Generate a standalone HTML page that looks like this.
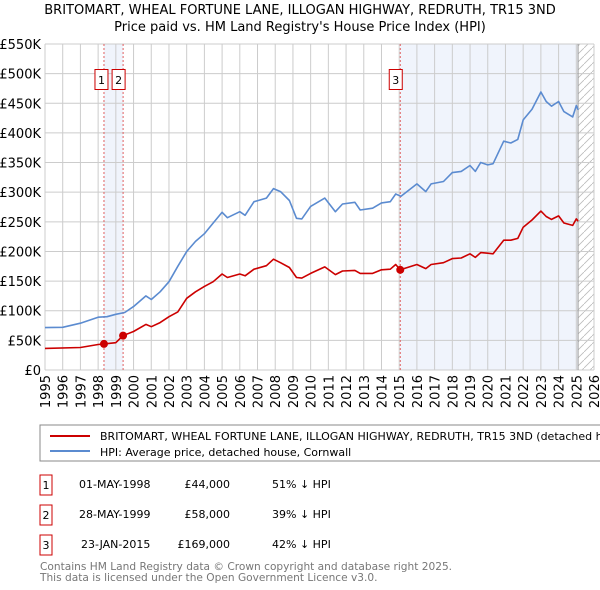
<!DOCTYPE html>
<html><head><meta charset="utf-8"><style>
body{margin:0;background:#fff;font-family:"DejaVu Sans","Liberation Sans",sans-serif;}
#wrap{position:relative;width:600px;height:590px;overflow:hidden}
</style></head><body>
<div id="wrap">
<svg id="chart" width="600" height="590" font-family="DejaVu Sans, Liberation Sans, sans-serif">
<text x="300" y="14" text-anchor="middle" font-size="13">BRITOMART, WHEAL FORTUNE LANE, ILLOGAN HIGHWAY, REDRUTH, TR15 3ND</text>
<text x="300" y="31" text-anchor="middle" font-size="13">Price paid vs. HM Land Registry's House Price Index (HPI)</text>
<g id="plot"></g>
<rect x="40" y="425" width="570" height="36" fill="#fff" stroke="#888"/>
<line x1="50" y1="436" x2="90" y2="436" stroke="#cc0000" stroke-width="2"/>
<text x="100" y="440" font-size="11">BRITOMART, WHEAL FORTUNE LANE, ILLOGAN HIGHWAY, REDRUTH, TR15 3ND (detached house)</text>
<line x1="50" y1="451" x2="90" y2="451" stroke="#5b8bd0" stroke-width="2"/>
<text x="100" y="456" font-size="11">HPI: Average price, detached house, Cornwall</text>
<g font-size="11">
<rect x="40" y="475" width="12" height="20" fill="#fff" stroke="#cc0000"/><text x="46" y="489" text-anchor="middle">1</text>
<text x="79" y="488">01-MAY-1998</text><text x="230" y="488" text-anchor="end">£44,000</text><text x="272" y="488">51% ↓ HPI</text>
<rect x="40" y="505" width="12" height="20" fill="#fff" stroke="#cc0000"/><text x="46" y="519" text-anchor="middle">2</text>
<text x="79" y="518">28-MAY-1999</text><text x="230" y="518" text-anchor="end">£58,000</text><text x="272" y="518">39% ↓ HPI</text>
<rect x="40" y="535" width="12" height="20" fill="#fff" stroke="#cc0000"/><text x="46" y="549" text-anchor="middle">3</text>
<text x="81" y="548">23-JAN-2015</text><text x="230" y="548" text-anchor="end">£169,000</text><text x="272" y="548">42% ↓ HPI</text>
</g>
<text x="40" y="570" font-size="10.6" fill="#777">Contains HM Land Registry data © Crown copyright and database right 2025.</text>
<text x="40" y="581" font-size="10.6" fill="#777">This data is licensed under the Open Government Licence v3.0.</text>
</svg></div>
<script>
const yTicks=[0,50,100,150,200,250,300,350,400,450,500,550];
const yTickLabels=["£0","£50K","£100K","£150K","£200K","£250K","£300K","£350K","£400K","£450K","£500K","£550K"];
const xYears=[1995,1996,1997,1998,1999,2000,2001,2002,2003,2004,2005,2006,2007,2008,2009,2010,2011,2012,2013,2014,2015,2016,2017,2018,2019,2020,2021,2022,2023,2024,2025,2026];
const hpiT=[1995,1996,1997,1998,1998.5,1999,1999.5,2000,2000.7,2001,2001.5,2002,2002.5,2003,2003.5,2004,2004.5,2005,2005.3,2006,2006.3,2006.8,2007.5,2007.9,2008.3,2008.8,2009.2,2009.5,2010,2010.8,2011.4,2011.8,2012.5,2012.8,2013.5,2014,2014.5,2014.8,2015.1,2016,2016.5,2016.8,2017.5,2018,2018.5,2019,2019.3,2019.6,2020,2020.3,2020.9,2021.3,2021.7,2022,2022.5,2023,2023.3,2023.6,2024,2024.3,2024.8,2025,2025.1];
const hpiV=[71.5,72,79,89,90,94,97,107,125,119,132,149,175,200,217,230,248,266,257,267,261,284,290,306,301,286,256,255,276,290,267,280,283,270,273,282,284,297,293,314,301,314,318,333,335,345,335,350,346,348,386,383,389,422,440,469,453,445,453,436,427,446,439];
const propT=[1995,1997,1998,1998.33,1999,1999.41,2000,2000.7,2001,2001.5,2002,2002.5,2003,2003.5,2004,2004.5,2005,2005.3,2006,2006.3,2006.8,2007.5,2007.9,2008.3,2008.8,2009.2,2009.5,2010,2010.8,2011.4,2011.8,2012.5,2012.8,2013.5,2014,2014.5,2014.8,2015.06,2016,2016.5,2016.8,2017.5,2018,2018.5,2019,2019.3,2019.6,2020,2020.3,2020.9,2021.3,2021.7,2022,2022.5,2023,2023.3,2023.6,2024,2024.3,2024.8,2025,2025.1];
const propV=[36.5,38,43,44,46,58,65,77,73,80,90,98,121,132,141,149,162,156,162,159,170,176,187,181,173,156,155,163,174,161,167,168,163,163,169,170,178,169,178,171,178,181,188,189,196,190,198,197,196,219,219,222,241,253,268,259,254,260,248,244,255,251];
const saleT=[1998.33,1999.41,2015.06];
const saleV=[44,58,169];
const saleLabels=["1","2","3"];

const X0=45,X1=594,Y0=370,Y1=44,NS="http://www.w3.org/2000/svg";
const xs=t=>X0+(t-1995)/(2026-1995)*(X1-X0);
const ys=v=>Y0-v/550*(Y0-Y1);
const g=document.getElementById('plot');
function mk(tag,at,parent){const e=document.createElementNS(NS,tag);for(const k in at)e.setAttribute(k,at[k]);(parent||g).appendChild(e);return e;}

let e=mk('rect',{x:xs(saleT[0]),y:Y1,width:xs(saleT[1])-xs(saleT[0]),height:Y0-Y1,fill:'#f0f4fc'});


e=mk('rect',{x:xs(saleT[2]),y:Y1,width:xs(2025.1)-xs(saleT[2]),height:Y0-Y1,fill:'#f0f4fc'});


const defs=mk('defs',{});
const pat=mk('pattern',{id:'hatch',width:8,height:8,patternUnits:'userSpaceOnUse'},defs);
mk('path',{d:'M0,8 L8,0',stroke:'#bbb','stroke-width':0.8},pat);
e=mk('rect',{x:xs(2025.1),y:Y1,width:X1-xs(2025.1),height:Y0-Y1,fill:'url(#hatch)'});


yTicks.forEach((v,i)=>{
  mk('line',{x1:X0,x2:X1,y1:ys(v),y2:ys(v),stroke:'#ccc','stroke-width':1});
  const t=mk('text',{x:X0-4,y:ys(v)+5,'text-anchor':'end','font-size':13});
  t.textContent=yTickLabels[i];
  
  
});
xYears.forEach(yr=>{
  mk('line',{x1:xs(yr),x2:xs(yr),y1:Y1,y2:Y0,stroke:'#ccc','stroke-width':1});
  const t=mk('text',{transform:`translate(${xs(yr)+5},${Y0+5}) rotate(-90)`,'text-anchor':'end','font-size':13});
  t.textContent=yr;
  
  
});
mk('line',{x1:xs(2025.1),x2:xs(2025.1),y1:Y1,y2:Y0,stroke:'#999','stroke-width':1});
const boxOff=[-9,-11,-11];
saleT.forEach((t,i)=>{
  e=mk('line',{x1:xs(t),x2:xs(t),y1:Y1,y2:Y0,stroke:'#e06060','stroke-width':1,'stroke-dasharray':'2,2'});
  
  
  const bx=xs(t)+boxOff[i];
  e=mk('rect',{x:bx,y:69.5,width:13,height:20,fill:'#fff',stroke:'#cc0000'});
  
  
  const tx=mk('text',{x:bx+6.5,y:84,'text-anchor':'middle','font-size':11});
  tx.textContent=saleLabels[i];
});
function line(T,V,col,name){
  const d=T.map((t,i)=>(i?'L':'M')+xs(t).toFixed(1)+','+ys(V[i]).toFixed(1)).join(' ');
  const p=mk('path',{d,fill:'none',stroke:col,'stroke-width':1.6,'stroke-linejoin':'round'});
  
  
}
line(hpiT,hpiV,'#5b8bd0','hpi-line');
line(propT,propV,'#cc0000','property-price-line');
saleT.forEach((t,i)=>{
  const c=mk('circle',{cx:xs(t),cy:ys(saleV[i]),r:4,fill:'#cc0000'});
  
  
});
</script>
</body></html>
